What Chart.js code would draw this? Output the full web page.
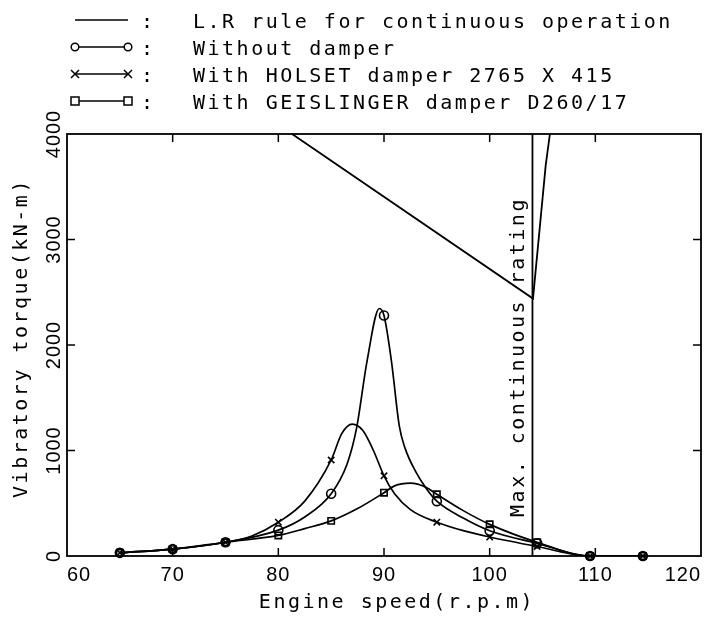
<!DOCTYPE html>
<html><head><meta charset="utf-8">
<script src="https://cdn.jsdelivr.net/npm/chart.js@4.4.1/dist/chart.umd.min.js"></script>
<style>
html,body{margin:0;padding:0;background:#fff;overflow:hidden}
#wrap{position:relative;width:713px;height:618px;background:#fff}
#c{position:absolute;left:0;top:0}
.lt{position:absolute;font-family:"DejaVu Sans Mono",monospace;font-size:20px;letter-spacing:2.5px;line-height:24px;white-space:nowrap;color:#000}
</style></head><body>
<div id="wrap">
<canvas id="c" width="713" height="618"></canvas>
<div id="legend"></div>
</div>
<script>
// ---------- data ----------
const legendLabels = ["L.R rule for continuous operation", "Without damper", "With HOLSET damper 2765 X 415", "With GEISLINGER damper D260/17"];
const xTickValues = [60, 70, 80, 90, 100, 110, 120];
const yTickValues = [0, 1000, 2000, 3000, 4000];
const xInnerTicks = [70, 80, 90, 100, 110];
const yInnerTicks = [1000, 2000, 3000];
const xTitle = "Engine speed(r.p.m)";
const yTitle = "Vibratory torque(kN-m)";
const mcrLabel = "Max. continuous rating";
const mcrSpeed = 104.05;

// measured points (markers)
const markerSpeeds = [65, 70, 75, 80, 85, 90, 95, 100, 104.5, 109.5, 114.5];
const withoutDamperMarks = [30, 65, 130, 245, 590, 2280, 520, 240, 120, 0, 0];
const holsetMarks = [30, 65, 130, 320, 910, 760, 320, 180, 90, 0, 0];
const geislingerMarks = [30, 65, 130, 195, 333, 600, 585, 300, 130, 0, 0];

// smooth curves
const withoutDamperCurveSpeed = [65, 70, 75, 80, 82.5, 85, 86.5, 87.4, 88.4, 89.56, 90, 90.7, 91.45, 92, 93, 94, 95, 97.5, 100, 104.5, 109.5, 114.5];
const withoutDamperCurveTorque = [30, 65, 130, 245, 370, 590, 870, 1210, 1850, 2346, 2280, 1850, 1230, 1020, 800, 640, 520, 360, 240, 120, 0, 0];
const holsetCurveSpeed = [65, 70, 75, 77.5, 80, 82.5, 85, 86, 87, 88, 89, 90, 91, 92.5, 95, 97.5, 100, 104.5, 109.5, 114.5];
const holsetCurveTorque = [30, 65, 130, 190, 320, 520, 910, 1160, 1250, 1190, 1000, 760, 590, 440, 320, 240, 180, 90, 0, 0];
const geislingerCurveSpeed = [65, 70, 75, 80, 82.5, 85, 87.5, 90, 91, 92.5, 94, 95, 97.5, 100, 104.5, 109.5, 114.5];
const geislingerCurveTorque = [30, 65, 130, 195, 260, 333, 450, 600, 665, 690, 650, 585, 430, 300, 130, 0, 0];

// L.R rule limit line
const lrSpeed = [81.3, 104.1, 105.3, 105.7];
const lrTorque = [4000, 2440, 3700, 4000];

// ---------- helpers ----------
const pts = (xs, ys) => xs.map((x, i) => ({x: x, y: ys[i]}));

// ---------- legend (HTML) ----------
(function(){
  const lg = document.getElementById('legend');
  const styles = ['line', 'circle', 'cross', 'rect'];
  let svg = '<svg width="713" height="120" style="position:absolute;left:0;top:0">';
  let html = '';
  legendLabels.forEach((lab, i) => {
    const cy = 20 + i * 27;
    svg += `<line x1="75" y1="${cy}" x2="128" y2="${cy}" stroke="#000" stroke-width="1.7"/>`;
    [75, 128].forEach(mx => {
      if (styles[i] === 'circle') svg += `<circle cx="${mx}" cy="${cy}" r="3.8" fill="#fff" stroke="#000" stroke-width="1.5"/>`;
      if (styles[i] === 'cross') svg += `<path d="M${mx-4} ${cy-4}L${mx+4} ${cy+4}M${mx-4} ${cy+4}L${mx+4} ${cy-4}" stroke="#000" stroke-width="1.5"/>`;
      if (styles[i] === 'rect') svg += `<rect x="${mx-4}" y="${cy-4}" width="8" height="8" fill="#fff" stroke="#000" stroke-width="1.5"/>`;
    });
    html += `<div class="lt" style="left:141px;top:${cy-11}px">:</div>`;
    html += `<div class="lt" style="left:193px;top:${cy-11}px">${lab}</div>`;
  });
  svg += '</svg>';
  lg.innerHTML = svg + html;
})();

// ---------- plugins ----------
const spacingPlugin = {
  id: 'spacing',
  beforeUpdate(chart){ chart.ctx.letterSpacing = '1px'; },
  beforeDraw(chart){
    const ctx = chart.ctx;
    ctx.save(); ctx.fillStyle = '#fff'; ctx.fillRect(0, 0, chart.width, chart.height); ctx.restore();
    ctx.letterSpacing = '1px';
  }
};

const framePlugin = {
  id: 'frame',
  afterDatasetsDraw(chart){
    const {ctx, chartArea: {left, right, top, bottom}, scales: {x, y}} = chart;
    ctx.save();
    ctx.strokeStyle = '#000';
    ctx.lineWidth = 1.8;
    ctx.strokeRect(left, top, right - left, bottom - top);
    const L = 8;
    ctx.beginPath();
    xInnerTicks.forEach(v => {
      const p = x.getPixelForValue(v);
      ctx.moveTo(p, bottom); ctx.lineTo(p, bottom - L);
      ctx.moveTo(p, top); ctx.lineTo(p, top + L);
    });
    yInnerTicks.forEach(v => {
      const p = y.getPixelForValue(v);
      ctx.moveTo(left, p); ctx.lineTo(left + L, p);
      ctx.moveTo(right, p); ctx.lineTo(right - L, p);
    });
    ctx.lineWidth = 1.5;
    ctx.stroke();

    ctx.fillStyle = '#000';
    ctx.font = '20px "DejaVu Sans Mono"';
    ctx.letterSpacing = '2.5px';
    ctx.textAlign = 'center';
    ctx.textBaseline = 'middle';
    ctx.fillText(xTitle, 397, 603);
    ctx.save(); ctx.translate(22, 338); ctx.rotate(-Math.PI / 2); ctx.fillText(yTitle, 0, 0); ctx.restore();
    const mx = x.getPixelForValue(mcrSpeed) - 14;
    ctx.save(); ctx.translate(mx, 357); ctx.rotate(-Math.PI / 2); ctx.fillText(mcrLabel, 0, 0); ctx.restore();
    ctx.restore();
  }
};

// ---------- chart ----------
const curveStyle = {borderColor: '#000', borderWidth: 1.7, pointRadius: 0, cubicInterpolationMode: 'monotone', fill: false};
const markStyle = {showLine: false, borderColor: '#000', backgroundColor: 'rgba(255,255,255,0)', pointBorderColor: '#000', pointBackgroundColor: 'rgba(255,255,255,0)', pointBorderWidth: 1.6, pointRadius: 4.5, clip: false};

new Chart(document.getElementById('c'), {
  type: 'line',
  data: {
    datasets: [
      Object.assign({label: legendLabels[1] + ' curve', data: pts(withoutDamperCurveSpeed, withoutDamperCurveTorque)}, curveStyle),
      Object.assign({label: legendLabels[2] + ' curve', data: pts(holsetCurveSpeed, holsetCurveTorque)}, curveStyle),
      Object.assign({label: legendLabels[3] + ' curve', data: pts(geislingerCurveSpeed, geislingerCurveTorque)}, curveStyle),
      Object.assign({label: legendLabels[1], data: pts(markerSpeeds, withoutDamperMarks), pointStyle: 'circle'}, markStyle),
      Object.assign({label: legendLabels[2], data: pts(markerSpeeds, holsetMarks), pointStyle: 'crossRot', pointRadius: 5}, markStyle),
      Object.assign({label: legendLabels[3], data: pts(markerSpeeds, geislingerMarks), pointStyle: 'rect'}, markStyle),
      {label: legendLabels[0], data: pts(lrSpeed, lrTorque), borderColor: '#000', borderWidth: 1.8, pointRadius: 0, tension: 0, fill: false},
      {label: mcrLabel, data: [{x: mcrSpeed, y: 0}, {x: mcrSpeed, y: 4000}], borderColor: '#000', borderWidth: 1.8, pointRadius: 0, tension: 0, fill: false}
    ]
  },
  options: {
    responsive: false,
    animation: false,
    devicePixelRatio: 1,
    layout: {padding: {top: 134, right: 12, left: 0, bottom: 0}},
    plugins: {legend: {display: false}, tooltip: {enabled: false}},
    scales: {
      x: {
        type: 'linear', min: 60, max: 120,
        afterFit(s){ s.height = 62; s.paddingLeft = 0; s.paddingRight = 0; },
        afterBuildTicks(s){ s.ticks = xTickValues.map(v => ({value: v})); },
        grid: {display: false, drawTicks: false},
        border: {display: false},
        ticks: {color: '#000', font: {family: 'Liberation Sans', size: 20}, padding: 7, align: 'inner', maxRotation: 0, autoSkip: false, callback: v => String(v)}
      },
      y: {
        type: 'linear', min: 0, max: 4000,
        afterFit(s){ s.width = 67; s.paddingTop = 0; s.paddingBottom = 0; },
        afterBuildTicks(s){ s.ticks = yTickValues.map(v => ({value: v})); },
        grid: {display: false, drawTicks: false},
        border: {display: false},
        ticks: {color: '#000', font: {family: 'Liberation Sans', size: 20}, padding: -12, crossAlign: 'center', minRotation: 90, maxRotation: 90, autoSkip: false, callback: v => String(v)}
      }
    }
  },
  plugins: [spacingPlugin, framePlugin]
});
</script>
</body></html>
